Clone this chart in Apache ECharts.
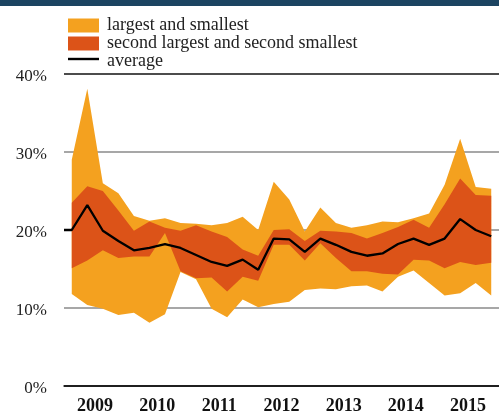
<!DOCTYPE html>
<html><head><meta charset="utf-8">
<script src="https://cdn.jsdelivr.net/npm/echarts@6/dist/echarts.min.js"></script>
<style>html,body{margin:0;padding:0;background:#fff}#c{width:499px;height:415px}</style>
</head><body><div id="c"></div><script>
const years = ['2009','2010','2011','2012','2013','2014','2015'];
const quarters = ['2009Q1','2009Q2','2009Q3','2009Q4','2010Q1','2010Q2','2010Q3','2010Q4',
  '2011Q1','2011Q2','2011Q3','2011Q4','2012Q1','2012Q2','2012Q3','2012Q4',
  '2013Q1','2013Q2','2013Q3','2013Q4','2014Q1','2014Q2','2014Q3','2014Q4',
  '2015Q1','2015Q2','2015Q3','2015Q4'];
const largest = [29.0,38.1,26.0,24.7,21.8,21.2,21.5,20.9,20.8,20.6,20.9,21.7,20.0,26.2,23.9,19.8,22.9,20.9,20.3,20.6,21.1,21.0,21.5,22.1,25.8,31.7,25.5,25.3];
const secondLargest = [23.5,25.6,25.0,22.5,19.9,21.1,20.3,19.9,20.6,19.8,19.1,17.5,16.7,20.0,20.1,18.6,19.9,19.8,19.6,18.9,19.6,20.4,21.3,20.3,23.3,26.6,24.5,24.4];
const average = [20.0,23.2,19.9,18.6,17.4,17.7,18.2,17.7,16.8,15.9,15.4,16.2,14.9,18.9,18.8,17.2,18.9,18.1,17.2,16.7,17.0,18.2,18.9,18.1,18.9,21.4,20.0,19.2];
const secondSmallest = [15.1,16.1,17.4,16.4,16.6,16.6,19.6,14.7,13.8,13.9,12.1,14.0,13.5,18.1,18.1,16.1,18.3,16.4,14.7,14.7,14.4,14.3,16.2,16.1,15.1,15.9,15.5,15.8];
const smallest = [11.8,10.4,9.9,9.1,9.4,8.1,9.2,14.6,13.7,9.9,8.8,11.1,10.1,10.5,10.8,12.3,12.5,12.4,12.8,12.9,12.1,14.0,14.8,13.2,11.6,11.9,13.2,11.6];
const yTicks = [0,10,20,30,40];

const ORANGE = '#F4A11F', RED = '#DC5318';
const serif = '"Liberation Serif", "DejaVu Serif", serif';

const chart = echarts.init(document.getElementById('c'), null, {renderer: 'canvas'});
const hidden = {symbol: 'none', lineStyle: {opacity: 0, width: 0}, silent: true, xAxisIndex: 1};
chart.setOption({
  animation: false,
  graphic: [
    {type: 'rect', left: 0, top: 0, shape: {width: 499, height: 6}, style: {fill: '#1C4461'}},
    {type: 'line', shape: {x1: 68, y1: 59, x2: 99, y2: 59}, style: {stroke: '#000', lineWidth: 2.4}}
  ],
  legend: {
    orient: 'vertical', left: 68, top: 16.5, padding: 0, itemWidth: 31, itemHeight: 14, itemGap: 0,
    textStyle: {fontFamily: serif, fontSize: 18, lineHeight: 17, color: '#222', padding: [0, 0, 0, 3]},
    data: [
      {name: 'largest and smallest', icon: 'rect', itemStyle: {color: ORANGE, borderWidth: 0}},
      {name: 'second largest and second smallest', icon: 'rect', itemStyle: {color: RED, borderWidth: 0}},
      {name: 'average', icon: 'rect', itemStyle: {color: 'rgba(0,0,0,0)', borderWidth: 0}}
    ],
    selectedMode: false
  },
  grid: {left: 64, top: 74, width: 446, height: 313.5},
  xAxis: [
    {type: 'category', data: years, boundaryGap: true,
     axisLine: {lineStyle: {color: '#111', width: 1.5}},
     axisTick: {inside: true, length: 7, lineStyle: {color: '#111', width: 1.5}},
     axisLabel: {fontFamily: serif, fontWeight: 'bold', fontSize: 18, color: '#111', margin: 11},
     splitLine: {show: false}},
    {type: 'category', data: quarters, boundaryGap: true, show: false},
    {type: 'value', min: 0, max: quarters.length, show: false}
  ],
  yAxis: {
    type: 'value', min: yTicks[0], max: yTicks[yTicks.length - 1], interval: 10,
    axisLine: {show: false}, axisTick: {show: false},
    axisLabel: {formatter: '{value}%', fontFamily: serif, fontSize: 17, lineHeight: 6, color: '#222', margin: 17,
      verticalAlign: 'top'},
    splitLine: {lineStyle: {color: ['#111', '#8a8a8a', '#8a8a8a', '#8a8a8a', '#111'], width: 1.5}}
  },
  series: [
    Object.assign({name: 'minBase', type: 'line', stack: 'outer', data: smallest}, hidden),
    {name: 'largest and smallest', type: 'line', stack: 'outer', xAxisIndex: 1, symbol: 'none',
      color: ORANGE, lineStyle: {width: 0, opacity: 0},
      areaStyle: {color: ORANGE, opacity: 1},
      data: largest.map((v, i) => +(v - smallest[i]).toFixed(2))},
    Object.assign({name: 'innerBase', type: 'line', stack: 'inner', data: secondSmallest}, hidden),
    {name: 'second largest and second smallest', type: 'line', stack: 'inner', xAxisIndex: 1, symbol: 'none',
      color: RED, lineStyle: {width: 0, opacity: 0},
      areaStyle: {color: RED, opacity: 1},
      data: secondLargest.map((v, i) => +(v - secondSmallest[i]).toFixed(2))},
    {name: 'average', type: 'line', xAxisIndex: 2, symbol: 'none', color: '#000',
      lineStyle: {color: '#000', width: 2.3},
      data: [[0, average[0]]].concat(average.map((v, i) => [i + 0.5, v]))}
  ]
});
</script></body></html>
